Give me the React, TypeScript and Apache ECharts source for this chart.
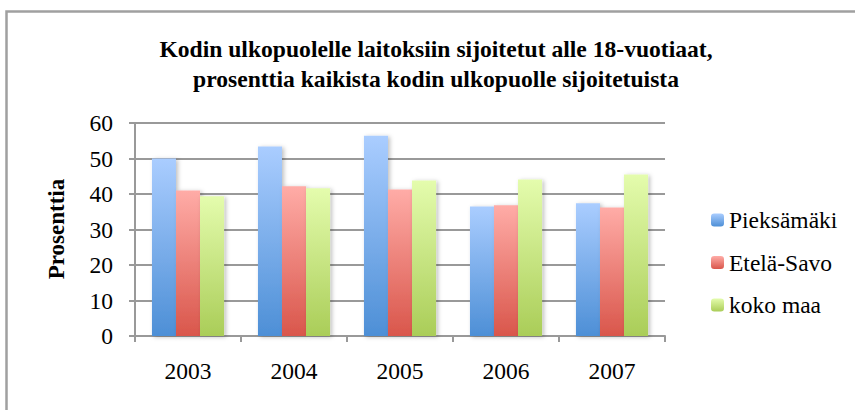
import React, { useEffect, useRef } from "react";
import * as echarts from "echarts";

const categories = ["2003", "2004", "2005", "2006", "2007"];
const seriesNames = ["Pieksämäki", "Etelä-Savo", "koko maa"];
const pieksamaki = [50.0, 53.4, 56.4, 36.5, 37.4];
const etelaSavo = [41.0, 42.2, 41.3, 36.8, 36.2];
const kokoMaa = [39.4, 41.6, 43.8, 44.1, 45.5];
const yTicks = { min: 0, max: 60, interval: 10 };
const titleLines = [
  "Kodin ulkopuolelle laitoksiin sijoitetut alle 18-vuotiaat,",
  "prosenttia kaikista kodin ulkopuolle sijoitetuista",
];
const yAxisName = "Prosenttia";

const FONT = "Liberation Serif, Times New Roman, serif";

const grad = (top: string, bottom: string) =>
  new echarts.graphic.LinearGradient(0, 0, 0, 1, [
    { offset: 0, color: top },
    { offset: 1, color: bottom },
  ]);

export default function App() {
  const ref = useRef<HTMLDivElement>(null);
  useEffect(() => {
    if (!ref.current) return;
    const chart = echarts.init(ref.current, null, { renderer: "svg" });
    const colors = [
      ["#aacdff", "#4d8fd6"],
      ["#ffaca7", "#d9564b"],
      ["#e4fcad", "#aacd58"],
    ];
    const datas = [pieksamaki, etelaSavo, kokoMaa];
    chart.setOption({
      animation: false,
      backgroundColor: "#fff",
      textStyle: { fontFamily: FONT },
      legend: {
        orient: "vertical",
        left: 706,
        top: 203,
        itemWidth: 13,
        itemHeight: 13,
        itemGap: 18.5,
        textStyle: { fontFamily: FONT, fontSize: 23.5, lineHeight: 24, color: "#000" },
        data: seriesNames.map((n, i) => ({ name: n, itemStyle: { color: grad(colors[i][0], colors[i][1]) } })),
      },
      grid: { left: 135, top: 123, width: 530, height: 213 },
      xAxis: {
        type: "category",
        data: categories,
        axisLine: { lineStyle: { color: "#999", width: 2 } },
        axisTick: { show: true, length: 6, lineStyle: { color: "#999", width: 2 } },
        axisLabel: { fontFamily: FONT, fontSize: 23.5, color: "#000", margin: 23 },
      },
      yAxis: {
        type: "value",
        min: yTicks.min,
        max: yTicks.max,
        interval: yTicks.interval,
        axisLine: { show: true, lineStyle: { color: "#999", width: 2 } },
        axisTick: { show: true, length: 6, lineStyle: { color: "#999", width: 2 } },
        splitLine: { lineStyle: { color: "#999", width: 2 } },
        axisLabel: { fontFamily: FONT, fontSize: 23.5, color: "#000", margin: 22 },
      },
      graphic: [
        {
          type: "rect",
          shape: { x: 6.5, y: 11.5, width: 900, height: 500 },
          style: { fill: "none", stroke: "#a0a0a0", lineWidth: 2.5 },
          silent: true,
        },
        ...titleLines.map((t, i) => ({
          type: "text",
          x: 436,
          y: 49 + i * 30,
          style: {
            text: t,
            fontFamily: FONT,
            fontWeight: "bold",
            fontSize: 23.6,
            fill: "#000",
            align: "center",
            verticalAlign: "middle",
          },
        })),
        {
          type: "text",
          x: 56,
          y: 229,
          rotation: Math.PI / 2,
          style: {
            text: yAxisName,
            fontFamily: FONT,
            fontWeight: "bold",
            fontSize: 23,
            fill: "#000",
            align: "center",
            verticalAlign: "middle",
          },
        },
      ],
      series: datas.map((d, i) => ({
        name: seriesNames[i],
        type: "bar",
        data: d,
        barGap: "0%",
        barCategoryGap: "32%",
        itemStyle: {
          color: grad(colors[i][0], colors[i][1]),
          shadowColor: "rgba(0,0,0,0.25)",
          shadowBlur: 4,
          shadowOffsetX: 2,
          shadowOffsetY: 1,
        },
      })),
    });
    return () => chart.dispose();
  }, []);
  return (
    <div
      ref={ref}
      style={{ position: "fixed", left: 0, top: 0, width: 855, height: 410 }}
    />
  );
}
